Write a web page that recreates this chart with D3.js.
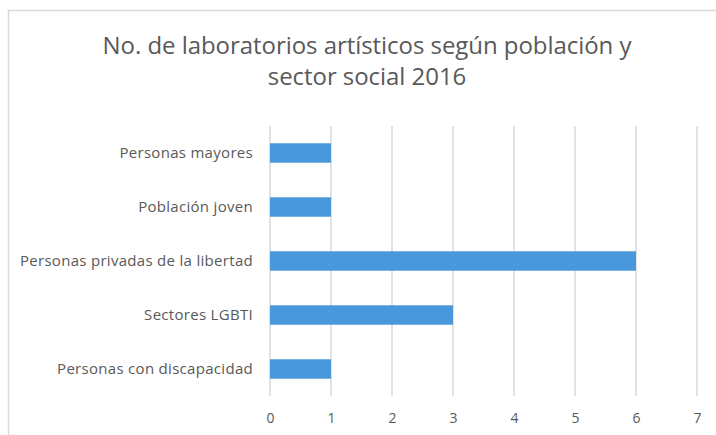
<!DOCTYPE html>
<html>
<head>
<meta charset="utf-8">
<script src="https://cdn.jsdelivr.net/npm/d3@7"></script>
<style>
  body { margin: 0; background: #fff; }
  .grid line { stroke: #d9d9d9; }
  .label { font-family: "Open Sans", sans-serif; fill: #595959; }
</style>
</head>
<body>
<script>
var w = 716;
var h = 435;

var titleLines = ["No. de laboratorios artísticos según población y", "sector social 2016"];
var categories = ["Personas mayores", "Población joven", "Personas privadas de la libertad", "Sectores LGBTI", "Personas con discapacidad"];
var values = [1, 1, 6, 3, 1];
var ticks = [0, 1, 2, 3, 4, 5, 6, 7];

var svg = d3.select("body")
            .append("svg")
            .attr("width", w)
            .attr("height", h);

// chart frame (top and left edges visible)
svg.append("path")
   .attr("d", "M8.5," + h + "V10.5H" + w)
   .attr("fill", "none")
   .attr("stroke", "#d9d9d9")
   .attr("stroke-width", 1.5);

// Title
svg.selectAll("titleLines")
   .data(titleLines)
   .enter()
   .append("text")
   .attr("class", "label")
   .attr("x", 367)
   .attr("y", function(d, i) { return 54 + i * 31; })
   .attr("text-anchor", "middle")
   .style("font-size", "24px")
   .style("letter-spacing", "-0.05px")
   .text(function(d) { return d; });

var xScale = d3.scaleLinear()
               .domain([0, 7])
               .range([270, 697]);

var yScale = d3.scaleBand()
               .domain(categories)
               .range([126, 396])
               .paddingInner(0.64)
               .paddingOuter(0.32);

// Gridlines
svg.append("g")
   .attr("class", "grid")
   .selectAll("line")
   .data(ticks)
   .enter()
   .append("line")
   .attr("x1", function(d) { return xScale(d); })
   .attr("x2", function(d) { return xScale(d); })
   .attr("y1", 126)
   .attr("y2", 396)
   .attr("stroke-width", 1.5);

// Bars
svg.selectAll("bars")
   .data(values)
   .enter()
   .append("rect")
   .attr("x", xScale(0))
   .attr("y", function(d, i) { return yScale(categories[i]); })
   .attr("width", function(d) { return xScale(d) - xScale(0); })
   .attr("height", yScale.bandwidth())
   .attr("fill", "#4a98dc");

// Category labels
var yAxis = d3.axisLeft(yScale).tickSize(0).tickPadding(0);
var yG = svg.append("g")
   .attr("transform", "translate(253,0)")
   .call(yAxis);
yG.select(".domain").remove();
yG.selectAll("text")
  .attr("class", "label")
  .attr("fill", null)
  .style("font-size", "15px")
  .style("letter-spacing", "0.3px")
  .style("font-family", null);

// Value ticks
var xAxis = d3.axisBottom(xScale).tickValues(ticks).tickFormat(d3.format("d")).tickSize(0).tickPadding(0);
var xG = svg.append("g")
   .attr("transform", "translate(0,413)")
   .call(xAxis);
xG.select(".domain").remove();
xG.selectAll("text")
  .attr("class", "label")
  .attr("fill", null)
  .style("font-size", "14px")
  .style("font-family", null);
</script>
</body>
</html>
